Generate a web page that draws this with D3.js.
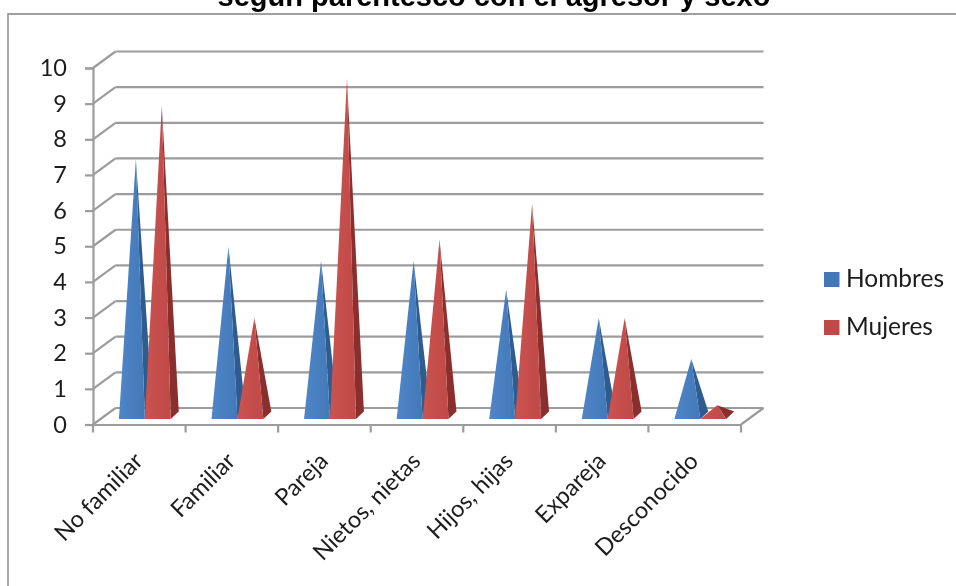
<!DOCTYPE html>
<html>
<head>
<meta charset="utf-8" />
<script src="https://d3js.org/d3.v7.min.js"></script>
<style>
  html, body { margin: 0; padding: 0; background: #fff; }
  svg { display: block; }
  .axis text, .legend text { font-family: Lato, "Open Sans", sans-serif; fill: #1c1c1c; }
  .title { font-family: "Liberation Sans", Arial, sans-serif; font-weight: bold; font-size: 29px; fill: #000; }
</style>
</head>
<body>
<svg width="956" height="586"></svg>
<script>
const categories = ['No familiar', 'Familiar', 'Pareja', 'Nietos, nietas', 'Hijos, hijas', 'Expareja', 'Desconocido'];
const hombres = [7.2, 4.75, 4.35, 4.35, 3.55, 2.75, 1.6];
const mujeres = [8.7, 2.75, 9.45, 4.95, 5.95, 2.75, 0.3];
const seriesNames = ['Hombres', 'Mujeres'];
const yTicks = [0, 1, 2, 3, 4, 5, 6, 7, 8, 9, 10];

const colors = {
  Hombres: { light: '#4f86c8', front: '#4278b8', side: '#2d5c8f' },
  Mujeres: { light: '#cb5350', front: '#bf4a47', side: '#8a2f2d' }
};

const svg = d3.select('svg');
const gridColor = '#9c9c9c';

// front plane of the 3d box, the back wall sits depthX / depthY behind it
const plotLeft = 93, plotRight = 741, plotBottom = 424.5, plotTop = 68;
const depthX = 22.5, depthY = 16.5;

const x = d3.scaleBand().domain(categories).range([plotLeft, plotRight]);
const y = d3.scaleLinear().domain([0, 10]).range([plotBottom, plotTop]);

const defs = svg.append('defs');
defs.append('filter').attr('id', 'soft')
  .attr('x', '-5%').attr('y', '-5%').attr('width', '110%').attr('height', '110%')
  .append('feGaussianBlur').attr('stdDeviation', 0.6);
seriesNames.forEach(name => {
  const g = defs.append('linearGradient').attr('id', 'front' + name)
    .attr('x1', 0).attr('x2', 1).attr('y1', 0).attr('y2', 0);
  g.append('stop').attr('offset', '0%').attr('stop-color', colors[name].light);
  g.append('stop').attr('offset', '100%').attr('stop-color', colors[name].front);
});

const root = svg.append('g').attr('filter', 'url(#soft)');

// title is cut off by the top of the picture
root.append('text').attr('class', 'title')
  .attr('x', 494).attr('y', 6).attr('text-anchor', 'middle')
  .text('según parentesco con el agresor y sexo');

// chart frame
root.append('path')
  .attr('d', 'M8,586V14H956')
  .attr('fill', 'none').attr('stroke', '#a0a0a0').attr('stroke-width', 1.8);

// walls
const grid = root.append('g');
grid.selectAll('line.back').data(yTicks).join('line')
  .attr('class', 'back')
  .attr('x1', plotLeft + depthX).attr('x2', plotRight + depthX)
  .attr('y1', d => y(d) - depthY).attr('y2', d => y(d) - depthY);
grid.selectAll('line.wall').data(yTicks).join('line')
  .attr('class', 'wall')
  .attr('x1', plotLeft).attr('x2', plotLeft + depthX)
  .attr('y1', d => y(d)).attr('y2', d => y(d) - depthY);
grid.append('line')
  .attr('x1', plotRight).attr('x2', plotRight + depthX)
  .attr('y1', y(0)).attr('y2', y(0) - depthY);
grid.selectAll('line').attr('stroke', gridColor).attr('stroke-width', 2.2);

// axes
const yAxis = root.append('g').attr('class', 'axis')
  .attr('transform', `translate(${plotLeft},0)`)
  .call(d3.axisLeft(y).tickValues(yTicks).tickSize(8).tickPadding(18));
yAxis.selectAll('text').attr('font-size', 23.5);

const xAxis = root.append('g').attr('class', 'axis')
  .attr('transform', `translate(0,${plotBottom})`)
  .call(d3.axisBottom(x).tickSize(0).tickPadding(0));
xAxis.selectAll('.tick line').remove();
xAxis.selectAll('.tick text')
  .attr('font-size', 23.5)
  .attr('text-anchor', 'end')
  .attr('dy', 0)
  .attr('y', 0)
  .attr('transform', 'translate(5,38) rotate(-45)');
xAxis.selectAll('line.sep')
  .data(categories.map(c => x(c)).concat([plotRight]))
  .join('line').attr('class', 'sep')
  .attr('x1', d => d).attr('x2', d => d).attr('y1', 0).attr('y2', 8);

root.selectAll('.axis path, .axis line')
  .attr('stroke', gridColor).attr('stroke-width', 2.2);

// pyramids
const inner = d3.scaleBand().domain(seriesNames)
  .range([0, x.bandwidth() * 0.56]);
const groupOffset = x.bandwidth() * 0.28;
const baseFront = y(0) - 5.5, sideX = 8, sideY = 7.5, apexLift = 8.5;

const rows = categories.flatMap((c, i) => [
  { cat: c, name: 'Hombres', value: hombres[i] },
  { cat: c, name: 'Mujeres', value: mujeres[i] }
]);

const pyramids = root.append('g').selectAll('g').data(rows).join('g');
const x0 = d => x(d.cat) + groupOffset + inner(d.name);
const apexX = d => x0(d) + inner.bandwidth() / 2 + sideX / 2;
const apexY = d => y(d.value) - apexLift;

pyramids.append('path')
  .attr('fill', d => colors[d.name].side)
  .attr('d', d => d3.line()([
    [x0(d) + inner.bandwidth(), baseFront],
    [x0(d) + inner.bandwidth() + sideX, baseFront - sideY],
    [apexX(d), apexY(d)]
  ]) + 'Z');
pyramids.append('path')
  .attr('fill', d => `url(#front${d.name})`)
  .attr('d', d => d3.line()([
    [x0(d), baseFront],
    [x0(d) + inner.bandwidth(), baseFront],
    [apexX(d), apexY(d)]
  ]) + 'Z');

// legend
const legend = root.append('g').attr('class', 'legend');
const legendY = d3.scalePoint().domain(seriesNames).range([279.5, 327.5]);
legend.selectAll('rect').data(seriesNames).join('rect')
  .attr('x', 824).attr('y', d => legendY(d) - 7.5)
  .attr('width', 15.5).attr('height', 15)
  .attr('fill', d => colors[d].front);
legend.selectAll('text').data(seriesNames).join('text')
  .attr('x', 846).attr('y', d => legendY(d) + 7)
  .attr('font-size', 24.5)
  .text(d => d);
</script>
</body>
</html>
